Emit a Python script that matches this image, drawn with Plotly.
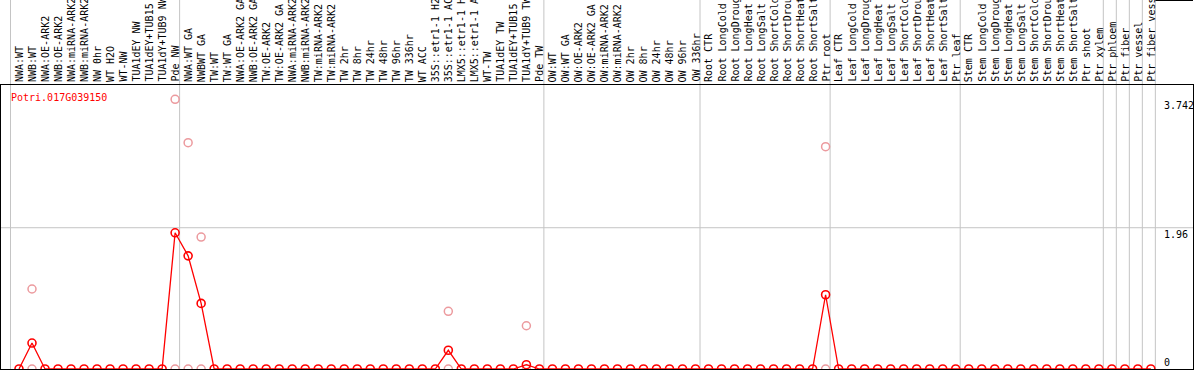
import plotly.graph_objects as go

categories = [
    "NWA:WT", "NWB:WT", "NWA:OE-ARK2", "NWB:OE-ARK2", "NWA:miRNA-ARK2", "NWB:miRNA-ARK2",
    "NW 0hr", "WT H2O", "WT-NW", "TUA1dEY NW", "TUA1dEY+TUB15 NW", "TUA1dY+TUB9 NW", "Pde NW",
    "NWA:WT GA", "NWBWT GA", "TW:WT", "TW:WT GA", "NWA:OE-ARK2 GA", "NWB:OE-ARK2 GA",
    "TW:OE-ARK2", "TW:OE-ARK2 GA", "NWA:miRNA-ARK2", "NWB:miRNA-ARK2", "TW:miRNA-ARK2",
    "TW:miRNA-ARK2", "TW 2hr", "TW 8hr", "TW 24hr", "TW 48hr", "TW 96hr", "TW 336hr", "WT ACC",
    "35S::etr1-1 H2O", "35S::etr1-1 ACC", "LMX5::etr1-1 H2O", "LMX5::etr1-1 ACC", "WT-TW",
    "TUA1dEY TW", "TUA1dEY+TUB15 TW", "TUA1dY+TUB9 TW", "Pde TW",
    "OW:WT", "OW:WT GA", "OW:OE-ARK2", "OW:OE-ARK2 GA", "OW:miRNA-ARK2", "OW:miRNA-ARK2",
    "OW 2hr", "OW 8hr", "OW 24hr", "OW 48hr", "OW 96hr", "OW 336hr",
    "Root CTR", "Root LongCold", "Root LongDrought", "Root LongHeat", "Root LongSalt",
    "Root ShortCold", "Root ShortDrought", "Root ShortHeat", "Root ShortSalt", "Ptr root",
    "Leaf CTR", "Leaf LongCold", "Leaf LongDrought", "Leaf LongHeat", "Leaf LongSalt",
    "Leaf ShortCold", "Leaf ShortDrought", "Leaf ShortHeat", "Leaf ShortSalt", "Ptr leaf",
    "Stem CTR", "Stem LongCold", "Stem LongDrought", "Stem LongHeat", "Stem LongSalt",
    "Stem ShortCold", "Stem ShortDrought", "Stem ShortHeat", "Stem ShortSalt", "Ptr shoot",
    "Ptr xylem", "Ptr phloem", "Ptr fiber", "Ptr vessel", "Ptr fiber vessel",
]

# mean expression per category (1-based positions listed where non-zero)
mean_nonzero = {2: 0.36, 13: 1.89, 14: 1.57, 15: 0.91, 34: 0.26, 40: 0.06, 63: 1.03}
mean_values = [mean_nonzero.get(i + 1, 0.0) for i in range(len(categories))]

# replicate points
rep_positions = [2, 2, 13, 13, 14, 14, 15, 15, 34, 34, 40, 40, 63, 63]
rep_values = [1.11, 0.0, 3.742, 0.0, 3.14, 0.0, 1.83, 0.0, 0.80, 0.0, 0.60, 0.0, 3.085, 0.0]

group_boundaries = [0, 13, 41, 53, 63, 73, 84, 85, 86, 87, 88]
y_labels = ["3.742", "1.96", "0"]
y_label_values = [3.742, 1.96, 0.0]
gene = "Potri.017G039150"

xpos = list(range(1, len(categories) + 1))
FONT = "DejaVu Sans Mono"

fig = go.Figure()
fig.add_trace(go.Scatter(
    x=rep_positions, y=rep_values, mode="markers",
    marker=dict(symbol="circle-open", size=8, color="#ec9a9e", line=dict(width=1.5)),
    hoverinfo="skip", showlegend=False,
))
fig.add_trace(go.Scatter(
    x=xpos, y=mean_values, mode="lines+markers",
    line=dict(color="#ff0000", width=1.3),
    marker=dict(symbol="circle-open", size=8, color="#ff0000", line=dict(width=1.6)),
    showlegend=False,
))

shapes = []
off = 0.5 - 2 / 13.0
for b in group_boundaries:
    shapes.append(dict(type="line", xref="x", yref="paper", x0=b + off, x1=b + off,
                       y0=0, y1=1.4, line=dict(color="#c4c4c4", width=1), layer="below"))
# horizontal grid at 1.96
shapes.append(dict(type="line", xref="paper", yref="y", x0=0, x1=1, y0=1.96, y1=1.96,
                   line=dict(color="#c4c4c4", width=1), layer="below"))
# top border of label area at right end
shapes.append(dict(type="line", xref="x", yref="paper", x0=88 + off, x1=91.3,
                   y0=1 + 84.5 / 284, y1=1 + 84.5 / 284, line=dict(color="black", width=1)))

annotations = []
for i, c in enumerate(categories):
    annotations.append(dict(
        x=i + 1, y=1 + 2 / 284, xref="x", yref="paper", text=c, textangle=-90,
        showarrow=False, xanchor="center", yanchor="bottom", borderpad=0,
        font=dict(family=FONT, size=10, color="black"),
    ))
annotations.append(dict(x=0.0075, y=(369 - 97) / 284, xref="paper", yref="paper", text=gene,
                        showarrow=False, xanchor="left", yanchor="middle", borderpad=0,
                        font=dict(family=FONT, size=10, color="#ff0000")))
for lab, v in zip(y_labels, y_label_values):
    annotations.append(dict(
        x=88.93, y=v, xref="x", yref="y", text=lab, showarrow=False, xanchor="left",
        yanchor="bottom" if v == 0 else "top", borderpad=0,
        font=dict(family=FONT, size=10, color="black"),
    ))

fig.update_layout(
    width=1194, height=370,
    margin=dict(l=1, r=1, t=85, b=1),
    paper_bgcolor="white", plot_bgcolor="white",
    xaxis=dict(range=[-0.383, 91.24], showgrid=False, zeroline=False, showticklabels=False,
               showline=True, mirror=True, linecolor="black", linewidth=1, ticks=""),
    yaxis=dict(range=[0, 3.94], showgrid=False, zeroline=False, showticklabels=False,
               showline=True, mirror=True, linecolor="black", linewidth=1, ticks=""),
    shapes=shapes, annotations=annotations,
)

fig.write_html("out.html", config={"displayModeBar": False},
               post_script="document.body.style.margin='0px';document.body.style.overflow='hidden';")
